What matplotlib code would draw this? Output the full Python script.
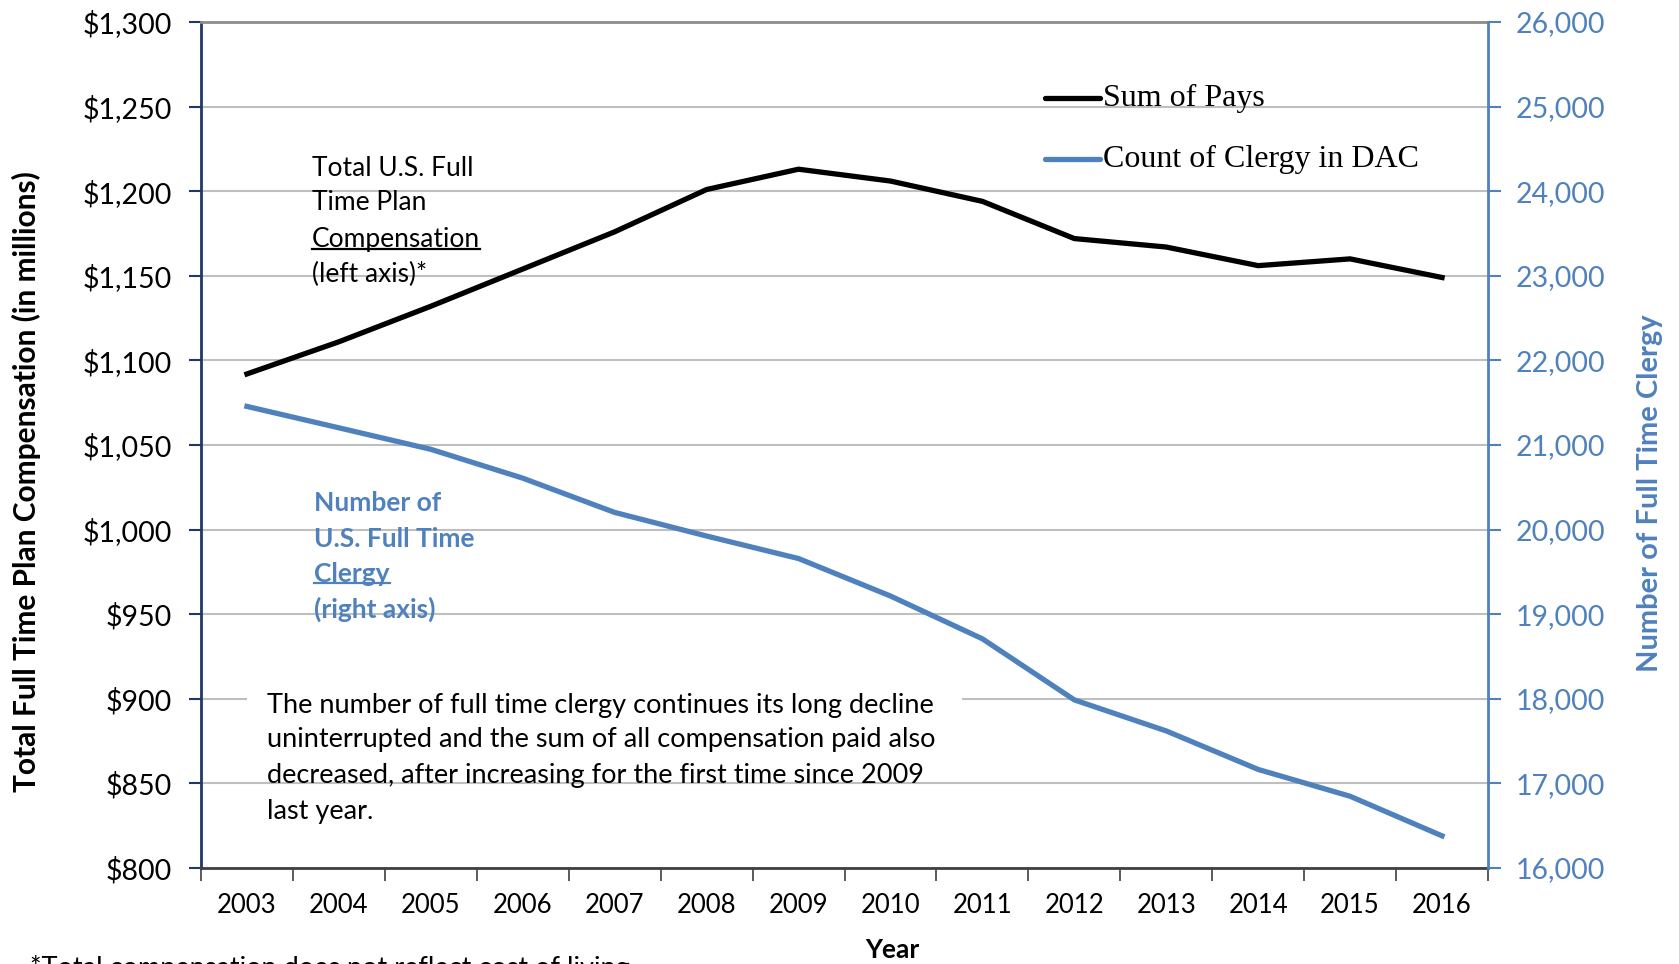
import matplotlib
matplotlib.use("Agg")
import matplotlib.pyplot as plt
from matplotlib.lines import Line2D
from matplotlib.patches import Rectangle
from matplotlib.ticker import FuncFormatter, FixedLocator

plt.rcParams["font.family"] = ["Lato", "DejaVu Sans"]

years = ["2003", "2004", "2005", "2006", "2007", "2008", "2009",
         "2010", "2011", "2012", "2013", "2014", "2015", "2016"]
sum_of_pays = [1092, 1111, 1132, 1154, 1176, 1201, 1213,
               1206, 1194, 1172, 1167, 1156, 1160, 1149]
clergy_count = [21456, 21203, 20949, 20608, 20203, 19924, 19658,
                19215, 18709, 17987, 17620, 17165, 16848, 16380]

BLUE = "#4F81BD"
NAVY = "#1F3864"
GRID = "#BFBFBF"

W, H = 1679, 964
fig = plt.figure(figsize=(W / 100, H / 100), dpi=100)
ax = fig.add_axes([201 / W, 1 - 868 / H, (1488 - 201) / W, (868 - 22) / H])
ax2 = ax.twinx()


def fx(px):
    return px / W


def fy(py):
    return 1 - py / H


x = list(range(len(years)))
ax.plot(x, sum_of_pays, color="black", lw=3.8, zorder=5, label="Sum of Pays")
ax2.plot(x, clergy_count, color=BLUE, lw=3.8, zorder=5, label="Count of Clergy in DAC")

ax.set_xlim(-0.5, len(years) - 0.5)
ax.set_ylim(800, 1300)
ax2.set_ylim(16000, 26000)
ax.set_yticks(range(800, 1301, 50))
ax2.set_yticks(range(16000, 26001, 1000))
ax.yaxis.set_major_formatter(FuncFormatter(lambda v, p: f"${v:,.0f}"))
ax2.yaxis.set_major_formatter(FuncFormatter(lambda v, p: f"{v:,.0f}"))

ax.set_xticks(x)
ax.set_xticklabels(years)
ax.xaxis.set_minor_locator(FixedLocator([i - 0.5 for i in range(len(years) + 1)]))
ax.tick_params(axis="x", which="major", length=0, labelsize=18.5, pad=18)
ax.tick_params(axis="x", which="minor", length=9, width=1.2, color="#404040")
ax.tick_params(axis="y", length=9, width=1.5, color=NAVY, labelsize=20.5, pad=12)
ax2.tick_params(axis="y", length=9, width=1.5, color=BLUE, labelsize=20.5,
                labelcolor=BLUE, pad=11)

ax.grid(axis="y", color=GRID, lw=1.5, zorder=0)
ax.set_axisbelow(True)
for s in ["left", "right", "top", "bottom"]:
    ax2.spines[s].set_visible(False)
ax.spines["left"].set_color(NAVY)
ax.spines["left"].set_linewidth(2)
ax.spines["right"].set_visible(False)
ax2.spines["right"].set_visible(True)
ax2.spines["right"].set_color(BLUE)
ax2.spines["right"].set_linewidth(2)
ax.spines["top"].set_color("#8C8C8C")
ax.spines["top"].set_linewidth(2)
ax.spines["bottom"].set_color("#404040")
ax.spines["bottom"].set_linewidth(2)

# white box of the note hides the $900 gridline
ax.add_patch(Rectangle((0.036, 0.192), 0.555, 0.014, transform=ax.transAxes,
                       facecolor="white", edgecolor="none", zorder=1))

# axis titles
fig.text(fx(26), fy(482), "Total Full Time Plan Compensation (in millions)",
         rotation=90, ha="center", va="center", fontsize=21.5, fontweight="bold")
fig.text(fx(1650), fy(493), "Number of Full Time Clergy", rotation=90,
         ha="center", va="center", fontsize=21, fontweight="bold", color=BLUE)
fig.text(fx(892), fy(950), "Year", ha="center", va="center",
         fontsize=19, fontweight="bold")
# footnote sits partly below the bottom edge, as in the source image
fig.text(fx(30), fy(955), "*Total compensation does not reflect cost of living",
         ha="left", va="top", fontsize=19.5)

# legend drawn by hand
for ly, lbl, col in [(98, "Sum of Pays", "black"),
                     (159, "Count of Clergy in DAC", BLUE)]:
    fig.add_artist(Line2D([fx(1045), fx(1100)], [fy(ly), fy(ly)], color=col,
                          lw=3.8, solid_capstyle="round"))
    fig.text(fx(1103), fy(ly), lbl, ha="left", va="center", fontsize=23,
             family="Liberation Serif")

# in-plot notes
under = []
left_note = ["Total U.S. Full", "Time Plan", "Compensation", "(left axis)*"]
for i, (t, py) in enumerate(zip(left_note, [168, 203, 239, 274])):
    tx = fig.text(fx(312), fy(py), t, ha="left", va="center", fontsize=19)
    if i == 2:
        under.append((tx, "black"))

blue_note = ["Number of", "U.S. Full Time", "Clergy", "(right axis)"]
for i, (t, py) in enumerate(zip(blue_note, [503, 539, 574, 609])):
    tx = fig.text(fx(314), fy(py), t, ha="left", va="center", fontsize=19,
                  fontweight="bold", color=BLUE)
    if i == 2:
        under.append((tx, BLUE))

long_note = ["The number of full time clergy continues its long decline",
             "uninterrupted and the sum of all compensation paid also",
             "decreased, after increasing for the first time since 2009",
             "last year."]
for t, py in zip(long_note, [706, 740, 775, 811]):
    fig.text(fx(267), fy(py), t, ha="left", va="center", fontsize=19.5)

fig.canvas.draw()
r = fig.canvas.get_renderer()
for tx, col in under:
    bb = tx.get_window_extent(r)
    fig.add_artist(Line2D([bb.x0 / W, bb.x1 / W], [(bb.y0 + 3) / H, (bb.y0 + 3) / H],
                          color=col, lw=1.6))

fig.savefig("out.png", dpi=100)
